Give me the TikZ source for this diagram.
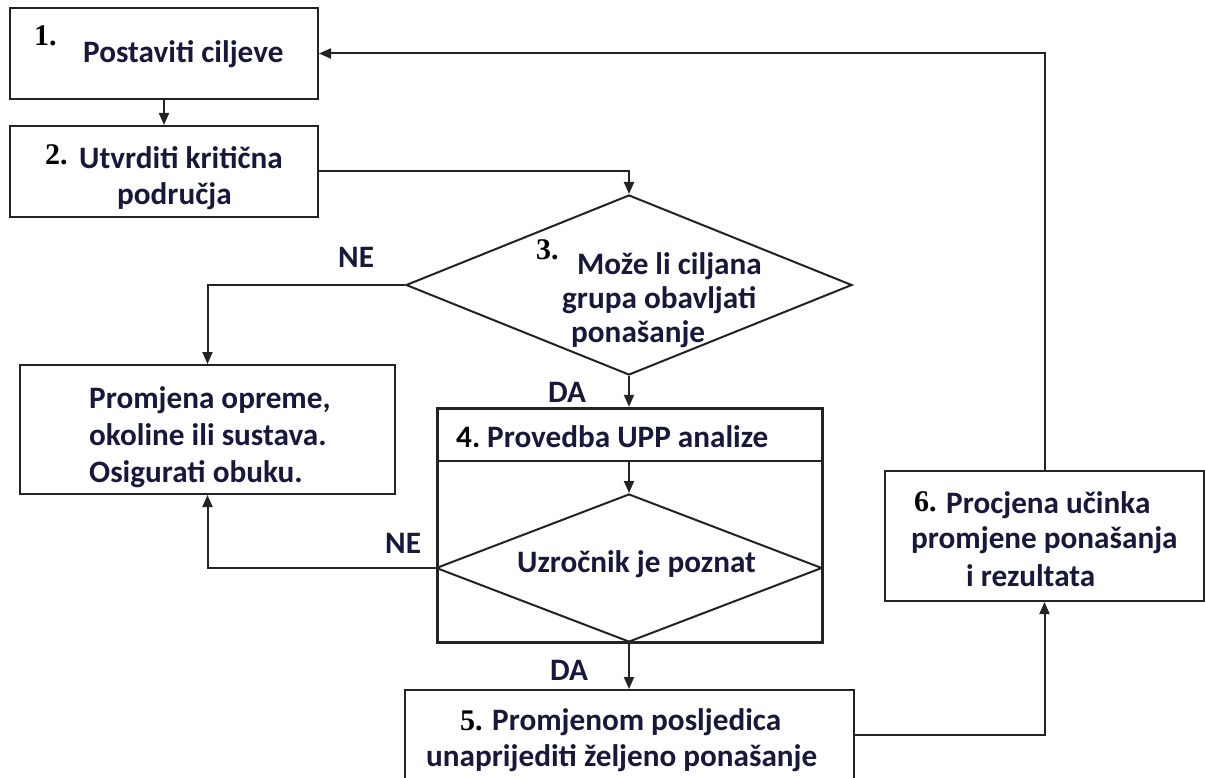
\documentclass[tikz,border=0pt]{standalone}
\usepackage{fontspec}
\setmainfont{Carlito}
\newfontfamily\numfont{Liberation Serif}
\usetikzlibrary{shapes.geometric,arrows.meta}
\definecolor{txt}{RGB}{24,24,60}
\definecolor{ln}{RGB}{35,35,35}
\begin{document}
\begin{tikzpicture}[x=1pt,y=-1pt,
 box/.style={draw=ln,line width=2pt,inner sep=0pt},
 dia/.style={diamond,draw=ln,line width=2pt,inner sep=0pt},
 lbl/.style={anchor=base west,inner sep=0pt,text=txt,font=\fontsize{31.2}{36}\selectfont\bfseries},
 num/.style={anchor=base west,inner sep=0pt,text=black,font=\fontsize{30}{32}\selectfont\numfont\bfseries},
 arr/.style={draw=ln,line width=2pt,-{Triangle[length=12pt,width=10pt]}},
 con/.style={draw=ln,line width=2pt}]
\useasboundingbox (0,0) rectangle (1205,778);
\clip (0,0) rectangle (1205,778);
\fill[white] (0,0) rectangle (1205,778);

% shapes
\node[box,minimum width=308pt,minimum height=91pt] (b1) at (164,53.5) {};
\node[box,minimum width=308pt,minimum height=91pt] (b2) at (164,171.5) {};
\node[dia,minimum width=446pt,minimum height=180pt] (d3) at (629,285) {};
\node[box,minimum width=375pt,minimum height=129pt] (b7) at (207.5,429.5) {};
\node[box,line width=3pt,minimum width=385pt,minimum height=234pt] (b4) at (629.5,525) {};
\node[box,line width=2.5pt,minimum width=385pt,minimum height=53pt] (b4h) at (629.5,434.5) {};
\node[dia,minimum width=386pt,minimum height=148pt] (d4) at (629,568) {};
\node[box,minimum width=449pt,minimum height=110pt] (b5) at (629,745) {};
\node[box,minimum width=319pt,minimum height=130pt] (b6) at (1044.5,536) {};

% texts
\node[num] (n1) at (34,46) {1.};
\node[lbl] (t1) at (83,63) {Postaviti ciljeve};
\node[num] (n2) at (45,165) {2.};
\node[lbl] (t2a) at (79,169) {Utvrditi kritična};
\node[lbl] (t2b) at (117,205) {područja};
\node[num] (n3) at (536,259) {3.};
\node[lbl] (t3a) at (577,274) {Može li ciljana};
\node[lbl] (t3b) at (562,308) {grupa obavljati};
\node[lbl] (t3c) at (571,342) {ponašanje};
\node[lbl] (ne1) at (338,267) {NE};
\node[lbl] (da1) at (548,402) {DA};
\node[lbl] (t7a) at (89,408) {Promjena opreme,};
\node[lbl] (t7b) at (89,445) {okoline ili sustava.};
\node[lbl] (t7c) at (89,482) {Osigurati obuku.};
\node[lbl] (ne2) at (385,553) {NE};
\node[lbl,text=black] (n4) at (456,447) {4.};
\node[lbl] (t4) at (487,447) {Provedba UPP analize};
\node[lbl] (t4d) at (517,572) {Uzročnik je poznat};
\node[lbl] (da2) at (550,680) {DA};
\node[num] (n5) at (460,730) {5.};
\node[lbl] (t5a) at (492,730) {Promjenom posljedica};
\node[lbl] (t5b) at (426,766) {unaprijediti željeno ponašanje};
\node[num] (n6) at (914,511) {6.};
\node[lbl] (t6a) at (946,513) {Procjena učinka};
\node[lbl] (t6b) at (911,548) {promjene ponašanja};
\node[lbl] (t6c) at (966,586) {i rezultata};

% connectors
\draw[arr] (b1.south) -- (b2.north);
\draw[arr] (b2.east) -| (d3.north);
\draw[arr] (d3.west) -| (b7.north);
\draw[arr] (d3.south) -- (d3.south |- b4h.north);
\draw[arr] (b4h.south -| d4.north) -- (d4.north);
\draw[arr] (d4.west) -| (b7.south);
\draw[arr] (d4.south) -- (b5.north);
\draw[arr] ([yshift=10pt]b5.east) -| (b6.south);
\draw[arr] (b6.north) |- (b1.east);
\end{tikzpicture}
\end{document}
